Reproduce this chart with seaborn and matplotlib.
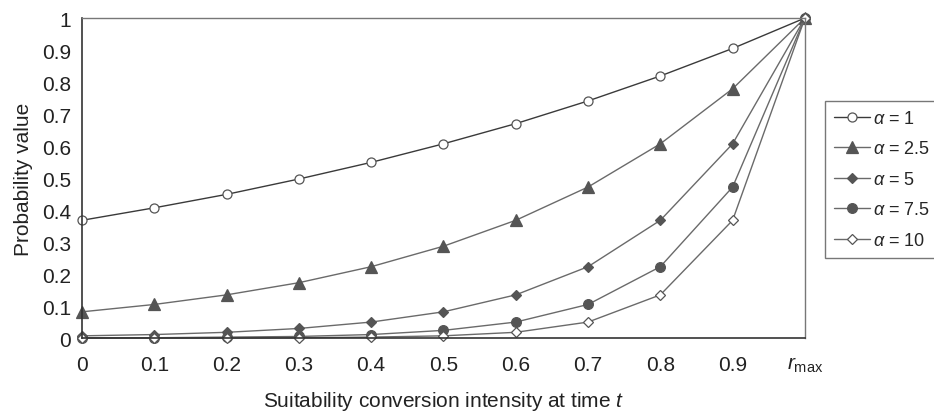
import matplotlib
matplotlib.use("Agg")
import matplotlib.pyplot as plt
import pandas as pd
import seaborn as sns

sns.set_style("white")
plt.rcParams['font.family'] = ['Liberation Sans', 'DejaVu Sans']
plt.rcParams['mathtext.fontset'] = 'custom'
plt.rcParams['mathtext.rm'] = 'Liberation Sans'
plt.rcParams['mathtext.it'] = 'Liberation Sans:italic'

# values
x_vals = [0, 0.1, 0.2, 0.3, 0.4, 0.5, 0.6, 0.7, 0.8, 0.9, 1.0]
x_labels = ['0', '0.1', '0.2', '0.3', '0.4', '0.5', '0.6', '0.7', '0.8', '0.9', r'$r_{\mathrm{max}}$']
y_ticks = [0, 0.1, 0.2, 0.3, 0.4, 0.5, 0.6, 0.7, 0.8, 0.9, 1.0]
y_labels = ['0', '0.1', '0.2', '0.3', '0.4', '0.5', '0.6', '0.7', '0.8', '0.9', '1']

alpha_1 = [0.368, 0.407, 0.449, 0.497, 0.549, 0.607, 0.670, 0.741, 0.819, 0.905, 1.0]
alpha_2_5 = [0.082, 0.105, 0.135, 0.173, 0.223, 0.287, 0.368, 0.472, 0.607, 0.779, 1.0]
alpha_5 = [0.007, 0.011, 0.018, 0.030, 0.050, 0.082, 0.135, 0.223, 0.368, 0.607, 1.0]
alpha_7_5 = [0.001, 0.001, 0.003, 0.005, 0.011, 0.024, 0.050, 0.105, 0.223, 0.472, 1.0]
alpha_10 = [0.0, 0.0, 0.0, 0.001, 0.003, 0.007, 0.018, 0.050, 0.135, 0.368, 1.0]

series_names = [r'$\alpha$ = 1', r'$\alpha$ = 2.5', r'$\alpha$ = 5', r'$\alpha$ = 7.5', r'$\alpha$ = 10']
series_values = [alpha_1, alpha_2_5, alpha_5, alpha_7_5, alpha_10]

styles = [
    dict(marker='o', markerfacecolor='white', markersize=6.5, color='#3a3a3a'),
    dict(marker='^', markerfacecolor='#555555', markersize=8, color='#6a6a6a'),
    dict(marker='D', markerfacecolor='#555555', markersize=5.5, color='#6a6a6a'),
    dict(marker='o', markerfacecolor='#555555', markersize=7, color='#6a6a6a'),
    dict(marker='D', markerfacecolor='white', markersize=5.5, color='#6a6a6a'),
]

rows = []
for name, vals in zip(series_names, series_values):
    for xv, yv in zip(x_vals, vals):
        rows.append({'x': xv, 'y': yv, 'series': name})
df = pd.DataFrame(rows)

fig = plt.figure(figsize=(9.34, 4.14), dpi=100)
ax = fig.add_axes([0.0878, 0.181, 0.774, 0.773])

for name, st in zip(series_names, styles):
    sub = df[df['series'] == name]
    sns.lineplot(data=sub, x='x', y='y', ax=ax, linewidth=1.0,
                 markeredgecolor='#555555', markeredgewidth=0.9,
                 label=name, **st)

ax.set_xlim(0, 1.0)
ax.set_ylim(0, 1.0)
ax.set_xticks(x_vals)
ax.set_xticklabels(x_labels, fontsize=15)
ax.set_yticks(y_ticks)
ax.set_yticklabels(y_labels, fontsize=15)
ax.tick_params(direction='inout', length=8, width=1, colors='#333333')
ax.tick_params(axis='x', pad=8)
ax.tick_params(axis='y', pad=4)
for lbl in ax.get_xticklabels() + ax.get_yticklabels():
    lbl.set_color('#222222')

for side in ['left', 'bottom']:
    ax.spines[side].set_color('#333333')
    ax.spines[side].set_linewidth(1.2)
for side in ['top', 'right']:
    ax.spines[side].set_color('#777777')
    ax.spines[side].set_linewidth(1.0)

ax.set_xlabel('Suitability conversion intensity at time $t$', fontsize=15, color='#222222', labelpad=11)
ax.set_ylabel('Probability value', fontsize=15, color='#222222', labelpad=6)

leg = ax.legend(loc='upper left', bbox_to_anchor=(0.883, 0.754), bbox_transform=fig.transFigure,
                fontsize=13, frameon=True, fancybox=False, handlelength=2.0,
                handletextpad=0.15, labelspacing=0.75, borderpad=0.5, borderaxespad=0)
leg.get_frame().set_edgecolor('#555555')
leg.get_frame().set_linewidth(1.0)
for line in ax.get_lines():
    line.set_clip_on(False)

fig.savefig('out.png', dpi=100)
plt.close(fig)
